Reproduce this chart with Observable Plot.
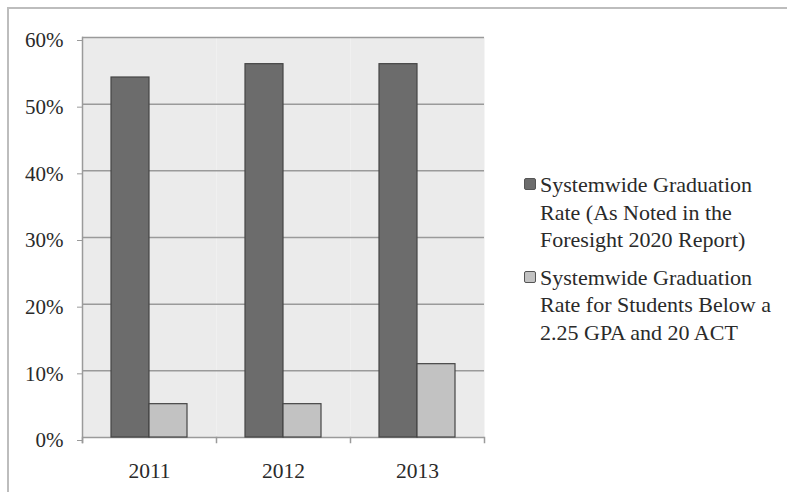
<!DOCTYPE html>
<html>
<head>
<meta charset="utf-8">
<script src="https://cdn.jsdelivr.net/npm/d3@7"></script>
<script src="https://cdn.jsdelivr.net/npm/@observablehq/plot@0.6"></script>
<style>
  html, body { margin: 0; padding: 0; background: #fff; }
  #wrap { position: relative; width: 787px; height: 492px; overflow: hidden; font-family: "Liberation Serif", "Times New Roman", serif; }
  #border { position: absolute; left: 7px; top: 7px; right: -10px; bottom: -10px; border-top: 2px solid #bdbdbd; border-left: 2px solid #bdbdbd; pointer-events: none; }
  #legend { position: absolute; left: 522px; top: 171px; color: #2a2a2a; font-size: 22px; line-height: 27.5px; }
  .entry { position: relative; padding-left: 18px; margin-bottom: 10px; }
  .sw { position: absolute; left: 2px; top: 7px; width: 10px; height: 10px; border: 1px solid #555; border-radius: 2px; }
</style>
</head>
<body>
<div id="wrap">
  <div id="chart"></div>
  <div id="border"></div>
  <div id="legend"></div>
</div>
<script>
const years = ["2011", "2012", "2013"];
const seriesKeys = ["overall", "below"];
const seriesLabels = [
  ["Systemwide Graduation", "Rate (As Noted in the", "Foresight 2020 Report)"],
  ["Systemwide Graduation", "Rate for Students Below a", "2.25 GPA and 20 ACT"]
];
const seriesColors = ["#6c6c6c", "#c2c2c2"];
const overallRate = [0.54, 0.56, 0.56];
const belowRate = [0.05, 0.05, 0.11];
const yTicks = [0, 0.1, 0.2, 0.3, 0.4, 0.5, 0.6];

const data = [];
years.forEach((yr, i) => {
  data.push({year: yr, series: seriesKeys[0], value: overallRate[i]});
  data.push({year: yr, series: seriesKeys[1], value: belowRate[i]});
});

const plot = Plot.plot({
  width: 787,
  height: 492,
  marginLeft: 82,
  marginRight: 303,
  marginTop: 37,
  marginBottom: 55,
  style: {fontFamily: "Liberation Serif, Times New Roman, serif", background: "transparent"},
  fx: {domain: years, padding: 0, label: null},
  x: {domain: seriesKeys, paddingInner: 0, paddingOuter: 0.72, axis: null},
  y: {domain: [0, 0.6], label: null},
  color: {domain: seriesKeys, range: seriesColors},
  marks: [
    Plot.frame({fill: "#ebebeb", stroke: null}),
    Plot.gridY(yTicks, {stroke: "#9a9a9a", strokeOpacity: 1, strokeWidth: 1.5}),
    Plot.frame({anchor: "left", stroke: "#9a9a9a", strokeWidth: 1.5, insetBottom: -5, facetAnchor: "left"}),
    Plot.frame({anchor: "left", stroke: "#9a9a9a", strokeWidth: 1.5, insetTop: 400, insetBottom: -5}),
    Plot.frame({anchor: "right", stroke: "#9a9a9a", strokeWidth: 1.5, insetTop: 400, insetBottom: -5, facetAnchor: "right"}),
    Plot.barY(data, {fx: "year", x: "series", y: "value", fill: "series", stroke: "#454545", strokeWidth: 1.2}),
    Plot.axisY(yTicks, {tickFormat: d3.format(".0%"), tickSize: 5, tickPadding: 14, stroke: "#9a9a9a", fill: "#2a2a2a", fontSize: 21, dy: 3, label: null}),
    Plot.axisFx({anchor: "bottom", tickSize: 0, tickPadding: 25, fontSize: 21.5, fill: "#2a2a2a", label: null})
  ]
});
document.getElementById("chart").appendChild(plot);

const legend = d3.select("#legend");
seriesKeys.forEach((k, i) => {
  const e = legend.append("div").attr("class", "entry");
  e.append("span").attr("class", "sw").style("background", seriesColors[i]);
  e.append("span").html(seriesLabels[i].join("<br>"));
});
</script>
</body>
</html>
